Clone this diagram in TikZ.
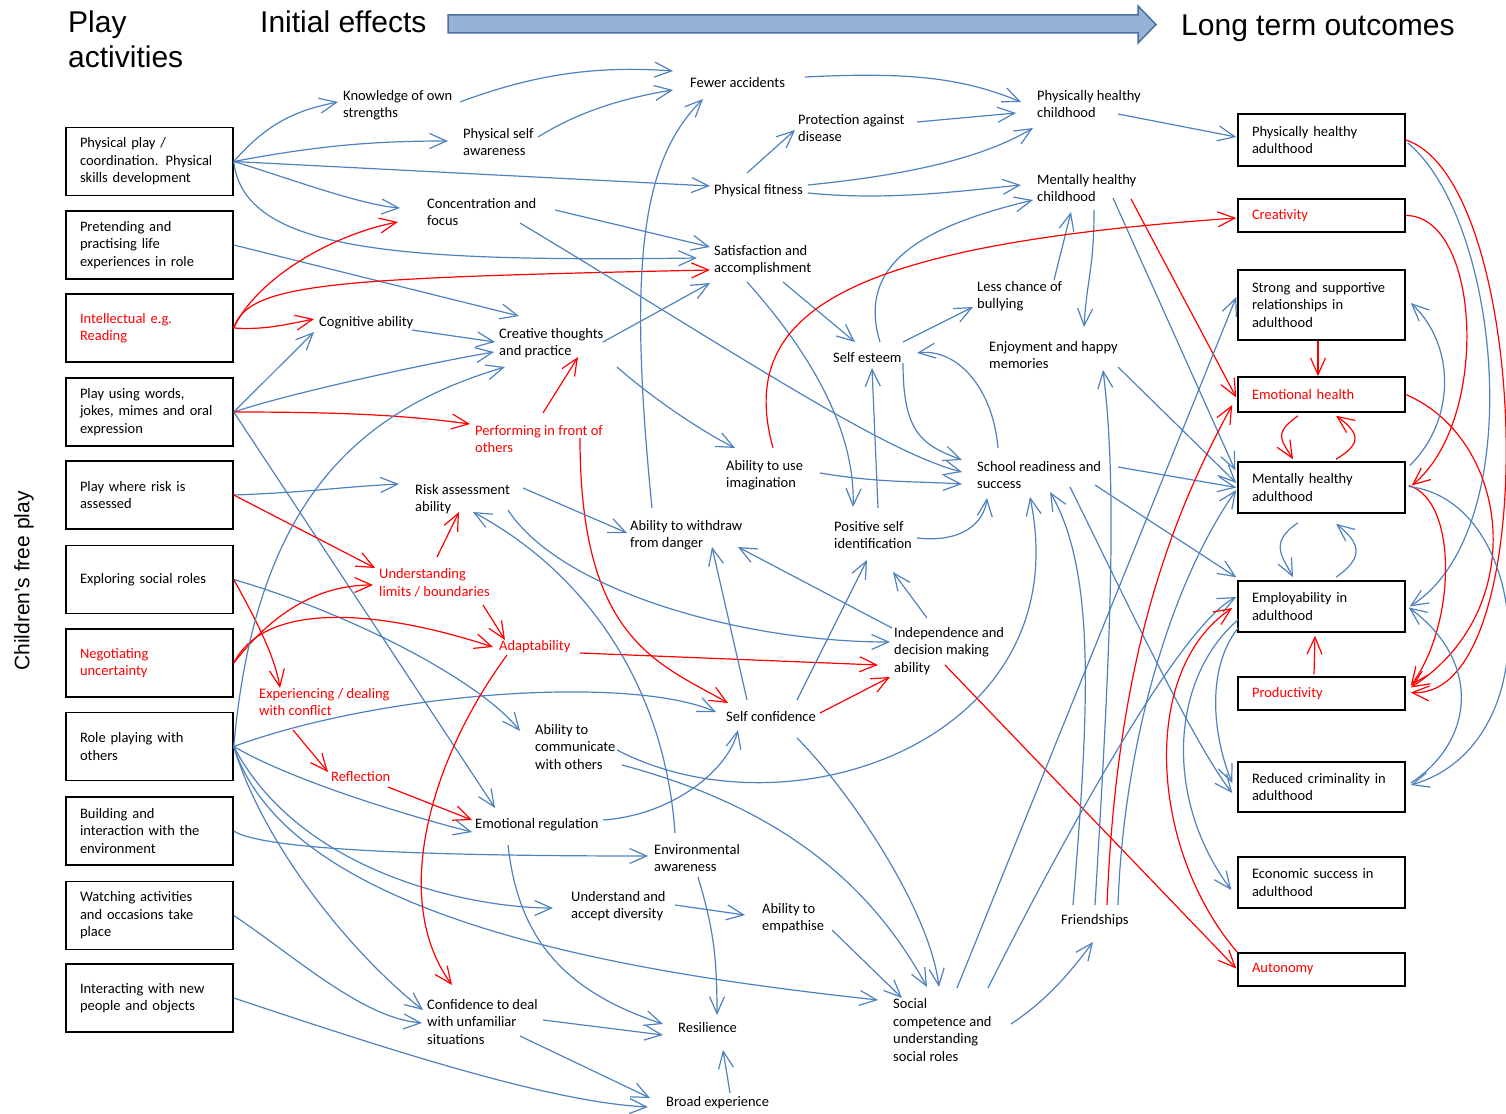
\documentclass[tikz,border=0pt]{standalone}
\usepackage{fontspec}
\setmainfont{Carlito}
\newfontfamily\headfont{Liberation Sans}
\usetikzlibrary{arrows.meta}
\definecolor{linkblue}{HTML}{4F81BD}
\definecolor{linkred}{HTML}{FF0000}
\definecolor{bandfill}{HTML}{95B3D7}
\definecolor{bandborder}{HTML}{4A6E9E}

\begin{document}
\begin{tikzpicture}[
    x=1pt, y=-1pt,
    lbl/.style={font=\fontsize{14.5}{17.5}\selectfont, align=left, inner sep=2pt, anchor=west},
    rlbl/.style={lbl, text=linkred},
    ttl/.style={font=\headfont\fontsize{30}{35}\selectfont, align=left, inner sep=0pt, anchor=west},
    actbox/.style={draw, line width=1.5pt, text width=139pt, inner xsep=14pt,
                   minimum height=68pt, align=left, font=\fontsize{14.5}{17.5}\selectfont},
    outbox/.style={actbox, minimum height=51pt},
    bl/.style={draw=linkblue, line width=1.2pt, -{Straight Barb[length=17pt,width=15pt]}},
    rd/.style={draw=linkred, line width=1.2pt, -{Straight Barb[length=17pt,width=15pt]}},
]
\useasboundingbox (0,0) rectangle (1506,1113);

% headings
\node[ttl] (tplay) at (68,39.5) {Play\\activities};
\node[ttl] (tinit) at (260,22) {Initial effects};
\node[ttl] (tlong) at (1181,28) {Long term outcomes};
\node[font=\headfont\fontsize{21}{25}\selectfont, rotate=90, inner sep=0pt] (tside) at (24,581) {Children’s free play};
\filldraw[fill=bandfill, draw=bandborder, line width=1.5pt]
    (448,15) -- (1138,15) -- (1138,6) -- (1156,24.5) -- (1138,43) -- (1138,33) -- (448,33) -- cycle;

% play activities
\node[actbox] (pp) at (149.5,161.5) {Physical play /\\coordination. Physical\\skills development};
\node[actbox] (pre) at (149.5,245) {Pretending and\\practising life\\experiences in role};
\node[actbox, text=linkred] (int) at (149.5,328) {Intellectual e.g.\\Reading};
\node[actbox] (puw) at (149.5,412) {Play using words,\\jokes, mimes and oral\\expression};
\node[actbox] (pwr) at (149.5,495) {Play where risk is\\assessed};
\node[actbox] (esr) at (149.5,579.5) {Exploring social roles};
\node[actbox, text=linkred] (neg) at (149.5,663) {Negotiating\\uncertainty};
\node[actbox] (rpo) at (149.5,746.5) {Role playing with\\others};
\node[actbox] (bie) at (149.5,831) {Building and\\interaction with the\\environment};
\node[actbox] (wat) at (149.5,915.5) {Watching activities\\and occasions take\\place};
\node[actbox] (inp) at (149.5,998) {Interacting with new\\people and objects};

% long term outcomes
\node[outbox, minimum height=52pt] (pha) at (1321.5,140) {Physically healthy\\adulthood};
\node[outbox, minimum height=33pt, text=linkred] (cre) at (1321.5,215.5) {Creativity};
\node[outbox, minimum height=70pt] (ssr) at (1321.5,305) {Strong and supportive\\relationships in\\adulthood};
\node[outbox, minimum height=35pt, text=linkred] (eh) at (1321.5,394.5) {Emotional health};
\node[outbox] (mha) at (1321.5,487.5) {Mentally healthy\\adulthood};
\node[outbox] (emp) at (1321.5,606.5) {Employability in\\adulthood};
\node[outbox, minimum height=33pt, text=linkred] (pro) at (1321.5,693.5) {Productivity};
\node[outbox, minimum height=50pt] (rcr) at (1321.5,787) {Reduced criminality in\\adulthood};
\node[outbox] (eco) at (1321.5,882.5) {Economic success in\\adulthood};
\node[outbox, minimum height=33pt, text=linkred] (aut) at (1321.5,969.5) {Autonomy};

% initial effects
\node[lbl] (kos) at (341,105) {Knowledge of own\\strengths};
\node[lbl] (psa) at (461,142) {Physical self\\awareness};
\node[lbl] (fa) at (688,83) {Fewer accidents};
\node[lbl] (pad) at (796,128) {Protection against\\disease};
\node[lbl] (phc) at (1035,104) {Physically healthy\\childhood};
\node[lbl] (pf) at (712,191) {Physical fitness};
\node[lbl] (mhc) at (1035,188) {Mentally healthy\\childhood};
\node[lbl] (cf) at (425,212) {Concentration and\\focus};
\node[lbl] (sa) at (712,260) {Satisfaction and\\accomplishment};
\node[lbl] (lcb) at (975,296) {Less chance of\\bullying};
\node[lbl] (ca) at (317,323) {Cognitive ability};
\node[lbl] (ctp) at (497,343) {Creative thoughts\\and practice};
\node[lbl] (se) at (831,358) {Self esteem};
\node[lbl] (ehm) at (987,355) {Enjoyment and happy\\memories};
\node[rlbl] (pfo) at (473,439) {Performing in front of\\others};
\node[lbl] (aui) at (724,475) {Ability to use\\imagination};
\node[lbl] (srs) at (975,475) {School readiness and\\success};
\node[lbl] (raa) at (413,499) {Risk assessment\\ability};
\node[lbl] (awd) at (628,535) {Ability to withdraw\\from danger};
\node[lbl] (psi) at (832,535) {Positive self\\identification};
\node[rlbl] (ulb) at (377,583) {Understanding\\limits / boundaries};
\node[lbl] (idm) at (892,651) {Independence and\\decision making\\ability};
\node[rlbl] (ada) at (497,647) {Adaptability};
\node[rlbl] (edc) at (257,702) {Experiencing / dealing\\with conflict};
\node[lbl] (sc) at (724,717) {Self confidence};
\node[lbl] (atc) at (533,747) {Ability to\\communicate\\with others};
\node[rlbl] (ref) at (329,777) {Reflection};
\node[lbl] (er) at (473,825) {Emotional regulation};
\node[lbl] (ea) at (652,858) {Environmental\\awareness};
\node[lbl] (uad) at (569,906) {Understand and\\accept diversity};
\node[lbl] (ate) at (760,918) {Ability to\\empathise};
\node[lbl] (fr) at (1059,921) {Friendships};
\node[lbl] (cdu) at (425,1022) {Confidence to deal\\with unfamiliar\\situations};
\node[lbl] (res) at (676,1028) {Resilience};
\node[lbl] (scu) at (891,1030) {Social\\competence and\\understanding\\social roles};
\node[lbl] (be) at (664,1103) {Broad experience};

% from the play activities
\draw[bl] (pp.east) .. controls +(35,-40) and +(-40,8) .. ([shift={(-3,-3)}]kos.west);
\draw[bl] (pp.east) .. controls +(80,-15) and +(-80,0) .. ([shift={(-13,-1)}]psa.west);
\draw[bl] (pp.east) -- ([shift={(-2,-5)}]pf.west);
\draw[bl] (pp.east) .. controls +(50,15) and +(-40,-3) .. ([shift={(-25,-4)}]cf.west);
\draw[bl] (pp.east) .. controls +(10,90) and +(-300,4) .. ([shift={(-15,-2)}]sa.west);
\draw[bl] (pre.east) -- ([shift={(22,-27)}]ctp.west);
\draw[rd] (int.east) .. controls +(22,-48) and +(-68,13) .. ([shift={(-27,10)}]cf.west);
\draw[rd] (int.east) .. controls +(15,-45) and +(-380,8) .. ([shift={(-2,10)}]sa.west);
\draw[rd] (int.east) .. controls +(30,2) and +(-30,6) .. ([shift={(-3,-4)}]ca.west);
\draw[bl] (puw.east) -- ([shift={(-3,9)}]ca.west);
\draw[bl] (puw.east) .. controls +(60,-20) and +(-60,10) .. ([shift={(-3,9)}]ctp.west);
\draw[rd] (puw.east) .. controls +(120,0) and +(-60,-8) .. ([shift={(-3,-15)}]pfo.west);
\draw[bl] (puw.east) -- ([shift={(22,-17)}]er.west);
\draw[bl] (pwr.east) .. controls +(80,-3) and +(-60,3) .. ([shift={(-14,-15)}]raa.west);
\draw[rd] (pwr.east) -- ([shift={(-2,-15)}]ulb.west);
\draw[bl] (esr.east) .. controls +(120,35) and +(-40,-50) .. ([shift={(-13,-16)}]atc.west);
\draw[rd] (esr.east) .. controls +(25,45) and +(-5,-30) .. ([shift={(23,-14)}]edc.west);
\draw[rd] (neg.east) .. controls +(35,-45) and +(-60,0) .. ([shift={(-4,2)}]ulb.west);
\draw[rd] (neg.east) .. controls +(32,-63) and +(-113,-37) .. ([shift={(-4,0)}]ada.west);
\draw[bl] (rpo.east) .. controls +(22,-248) and +(-145,43) .. ([shift={(8,24)}]ctp.west);
\draw[bl] (rpo.east) .. controls +(150,-55) and +(-86,-37) .. ([shift={(-8,-5)}]sc.west);
\draw[bl] (rpo.east) .. controls +(60,35) and +(-60,-15) .. ([shift={(-1,7)}]er.west);
\draw[bl] (rpo.east) .. controls +(67,128) and +(-80,0) .. ([shift={(-16,2)}]uad.west);
\draw[bl] (rpo.east) .. controls +(57,178) and +(-228,-25) .. ([shift={(-13,-30)}]scu.west);
\draw[bl] (rpo.east) .. controls +(30,100) and +(-70,-55) .. ([shift={(-2,-12)}]cdu.west);
\draw[bl] (bie.east) .. controls +(30,20) and +(-200,0) .. ([shift={(-4,-2)}]ea.west);
\draw[bl] (wat.east) .. controls +(60,40) and +(-60,-5) .. ([shift={(-3,1)}]cdu.west);
\draw[bl] (inp.east) .. controls +(150,50) and +(-100,-5) .. ([shift={(-16,4)}]be.west);

% between the initial effects
\draw[bl] ([shift={(119,-3)}]kos.west) .. controls +(80,-30) and +(-70,-5) .. ([shift={(-15,-12)}]fa.west);
\draw[bl] ([shift={(77,-5)}]psa.west) .. controls +(40,-25) and +(-50,8) .. ([shift={(-15,7)}]fa.west);
\draw[bl] ([shift={(35,-18)}]pf.west) -- ([shift={(-1,2)}]pad.west);
\draw[bl] ([shift={(130,-2)}]cf.west) -- ([shift={(-2,-13)}]sa.west);
\draw[bl] ([shift={(95,11)}]cf.west) .. controls +(200,120) and +(-80,-20) .. ([shift={(-13,-3)}]srs.west);
\draw[bl] ([shift={(106,-1)}]ctp.west) -- ([shift={(-2,23)}]sa.west);
\draw[bl] ([shift={(120,24)}]ctp.west) .. controls +(40,35) and +(-30,-15) .. ([shift={(11,-27)}]aui.west);
\draw[bl] ([shift={(95,7)}]ca.west) -- ([shift={(-2,-1)}]ctp.west);
\draw[rd] ([shift={(70,-26)}]pfo.west) -- ([shift={(81,14)}]ctp.west);
\draw[rd] ([shift={(107,-1)}]pfo.west) .. controls +(0,202) and +(-70,-40) .. ([shift={(4,-14)}]sc.west);
\draw[bl] ([shift={(24,-27)}]awd.west) .. controls +(-25,-250) and +(-60,60) .. ([shift={(15,16)}]fa.west);
\draw[bl] ([shift={(110,-11)}]raa.west) -- ([shift={(-1,-2)}]awd.west);
\draw[bl] ([shift={(95,11)}]raa.west) .. controls +(52,80) and +(-150,0) .. ([shift={(-2,-9)}]idm.west);
\draw[rd] ([shift={(60,-26)}]ulb.west) -- ([shift={(46,13)}]raa.west);
\draw[rd] ([shift={(106,22)}]ulb.west) -- ([shift={(8,-7)}]ada.west);
\draw[rd] ([shift={(10,8)}]ada.west) .. controls +(-77,105) and +(-62,-85) .. ([shift={(27,-37)}]cdu.west);
\draw[rd] ([shift={(83,6)}]ada.west) -- ([shift={(-14,14)}]idm.west);
\draw[rd] ([shift={(36,28)}]edc.west) -- ([shift={(-1,-5)}]ref.west);
\draw[rd] ([shift={(59,10)}]ref.west) -- ([shift={(-1,-5)}]er.west);
\draw[bl] ([shift={(130,-5)}]er.west) .. controls +(70,-5) and +(-10,40) .. ([shift={(14,13)}]sc.west);
\draw[bl] ([shift={(35,20)}]er.west) .. controls +(10,90) and +(-103,-34) .. ([shift={(-13,-4)}]res.west);
\draw[bl] ([shift={(23,-25)}]ea.west) .. controls +(-10,-143) and +(117,63) .. ([shift={(60,13)}]raa.west);
\draw[bl] ([shift={(46,19)}]ea.west) .. controls +(15,50) and +(0,-60) .. ([shift={(41,-13)}]res.west);
\draw[bl] ([shift={(106,-1)}]uad.west) -- ([shift={(-15,-3)}]ate.west);
\draw[bl] ([shift={(72,12)}]ate.west) -- ([shift={(11,-32)}]scu.west);
\draw[bl] ([shift={(89,18)}]atc.west) .. controls +(150,40) and +(-60,-110) .. ([shift={(36,-43)}]scu.west);
\draw[bl] ([shift={(84,3)}]atc.west) .. controls +(173,90) and +(50,243) .. ([shift={(55,22)}]srs.west);
\draw[bl] ([shift={(23,-17)}]sc.west) -- ([shift={(84,12)}]awd.west);
\draw[bl] ([shift={(73,-17)}]sc.west) -- ([shift={(35,25)}]psi.west);
\draw[rd] ([shift={(96,-4)}]sc.west) -- ([shift={(-2,26)}]idm.west);
\draw[bl] ([shift={(73,21)}]sc.west) .. controls +(50,50) and +(-10,-80) .. ([shift={(48,-43)}]scu.west);
\draw[bl] ([shift={(0,-23)}]idm.west) -- ([shift={(110,12)}]awd.west);
\draw[bl] ([shift={(35,-33)}]idm.west) -- ([shift={(61,37)}]psi.west);
\draw[rd] ([shift={(53,14)}]idm.west) -- ([shift={(-1,-1)}]aut.west);
\draw[bl] ([shift={(117,-6)}]fa.west) .. controls +(100,-5) and +(-60,-25) .. ([shift={(-14,-2)}]phc.west);
\draw[bl] ([shift={(121,-6)}]pad.west) -- ([shift={(-19,9)}]phc.west);
\draw[bl] ([shift={(96,-6)}]pf.west) .. controls +(100,-10) and +(-50,30) .. ([shift={(-2,24)}]phc.west);
\draw[bl] ([shift={(96,2)}]pf.west) .. controls +(80,8) and +(-60,6) .. ([shift={(-14,-3)}]mhc.west);
\draw[bl] ([shift={(49,-16)}]se.west) .. controls +(-25,-82) and +(-103,25) .. ([shift={(-2,12)}]mhc.west);
\draw[bl] ([shift={(79,-16)}]lcb.west) -- ([shift={(36,24)}]mhc.west);
\draw[bl] ([shift={(59,22)}]mhc.west) .. controls +(0,60) and +(3,-50) .. ([shift={(97,-28)}]ehm.west);
\draw[bl] ([shift={(72,-16)}]se.west) -- ([shift={(-2,11)}]lcb.west);
\draw[bl] ([shift={(71,22)}]sa.west) -- ([shift={(24,-16)}]se.west);
\draw[bl] ([shift={(35,22)}]sa.west) .. controls +(45,50) and +(3,-90) .. ([shift={(21,-28)}]psi.west);
\draw[bl] ([shift={(46,-27)}]psi.west) -- ([shift={(41,10)}]se.west);
\draw[bl] ([shift={(85,3)}]psi.west) .. controls +(45,5) and +(-3,25) .. ([shift={(12,23)}]srs.west);
\draw[bl] ([shift={(72,5)}]se.west) .. controls +(0,70) and +(-40,-15) .. ([shift={(-13,-15)}]srs.west);
\draw[bl] ([shift={(23,-27)}]srs.west) .. controls +(-5,-60) and +(40,-5) .. ([shift={(86,-5)}]se.west);
\draw[bl] ([shift={(96,-2)}]aui.west) .. controls +(60,10) and +(-50,-3) .. ([shift={(-13,9)}]srs.west);
\draw[bl] ([shift={(120,-6)}]scu.west) .. controls +(30,-20) and +(-30,40) .. ([shift={(34,21)}]fr.west);
\draw[bl] ([shift={(66,-10)}]be.west) -- ([shift={(47,22)}]res.west);
\draw[bl] ([shift={(118,-2)}]cdu.west) -- ([shift={(-13,7)}]res.west);
\draw[bl] ([shift={(95,14)}]cdu.west) -- ([shift={(-14,-5)}]be.west);

% into the long term outcomes
\draw[bl] ([shift={(83,10)}]phc.west) -- ([shift={(-1,-3)}]pha.west);
\draw[bl] ([shift={(78,10)}]mhc.west) -- ([shift={(-2,-17)}]mha.west);
\draw[rd] ([shift={(96,11)}]mhc.west) -- ([shift={(-1,3)}]eh.west);
\draw[rd] ([shift={(49,-27)}]aui.west) .. controls +(-38,-138) and +(-387,27) .. ([shift={(-1,2.5)}]cre.west);
\draw[bl] ([shift={(143,-8)}]srs.west) -- ([shift={(-1,0)}]mha.west);
\draw[bl] ([shift={(120,10)}]srs.west) -- ([shift={(-1,-3)}]emp.north west);
\draw[bl] ([shift={(95,12)}]srs.west) .. controls +(40,80) and +(-40,-50) .. ([shift={(-5,6)}]rcr.west);
\draw[bl] ([shift={(131,12)}]ehm.west) -- ([shift={(-1,-4.5)}]mha.west);
\draw[bl] ([shift={(14,-16)}]fr.west) .. controls +(17,-205) and +(45,78) .. ([shift={(75,17)}]srs.west);
\draw[bl] ([shift={(36,-16)}]fr.west) .. controls +(15,-250) and +(15,120) .. ([shift={(116,15)}]ehm.west);
\draw[rd] ([shift={(48,-16)}]fr.west) .. controls +(10,-250) and +(-60,110) .. ([shift={(-5,10.5)}]eh.west);
\draw[bl] ([shift={(59,-16)}]fr.west) .. controls +(5,-150) and +(-70,100) .. ([shift={(-1,2.5)}]mha.west);
\draw[bl] ([shift={(66,-42)}]scu.west) -- ([shift={(-1,-8)}]ssr.west);
\draw[bl] ([shift={(97,-42)}]scu.west) .. controls +(60,-120) and +(-60,30) .. ([shift={(-1,-9.5)}]emp.west);

% among the long term outcomes
\draw[rd] (cre.east) .. controls +(75,0) and +(79,-65) .. ([shift={(6,-2)}]mha.east);
\draw[rd] (pha.east) .. controls +(125,40) and +(135,7) .. ([shift={(5,-1)}]pro.east);
\draw[bl] ([shift={(2,3)}]pha.east) .. controls +(93,77) and +(121,-77) .. ([shift={(4,0)}]emp.east);
\draw[rd] ([xshift=-3.5pt]ssr.south) -- ([xshift=-3.5pt]eh.north);
\draw[rd] ([shift={(-23.5,3)}]eh.south) .. controls +(-25,18) and +(-12,-20) .. ([shift={(-28.5,-2)}]mha.north);
\draw[rd] ([shift={(14.5,-2)}]mha.north) .. controls +(25,-15) and +(25,18) .. ([shift={(14.5,3)}]eh.south);
\draw[bl] ([shift={(-23.5,9)}]mha.south) .. controls +(-30,20) and +(-10,-20) .. ([shift={(-28.5,-3)}]emp.north);
\draw[bl] ([shift={(14.5,-3)}]emp.north) .. controls +(28,-20) and +(25,20) .. ([shift={(14.5,10)}]mha.south);
\draw[rd] ([shift={(-7.5,-2)}]pro.north) -- ([shift={(-6.5,3)}]emp.south);
\draw[rd] (eh.east) .. controls +(105,45) and +(120,-77) .. ([shift={(5,-6)}]pro.east);
\draw[rd] ([shift={(3,-2)}]mha.east) .. controls +(50,15) and +(45,-60) .. ([shift={(5,-8)}]pro.east);
\draw[bl] ([shift={(4,-22)}]mha.east) .. controls +(46,-45) and +(45,42) .. ([shift={(5,-2)}]ssr.east);
\draw[bl] ([shift={(3,-1)}]mha.east) .. controls +(122,14) and +(140,-40) .. ([shift={(5,-2)}]rcr.east);
\draw[bl] ([shift={(5,-4)}]rcr.east) .. controls +(65,-43) and +(72,53) .. ([shift={(3,1)}]emp.east);
\draw[bl] ([shift={(1,-5)}]emp.south west) .. controls +(-34,43) and +(-18,-43) .. ([shift={(-5,-4)}]rcr.west);
\draw[bl] ([shift={(1,13)}]emp.west) .. controls +(-69,60) and +(-67,-90) .. ([shift={(-6,7.5)}]eco.west);
\draw[rd] (aut.north west) .. controls +(-88,-103) and +(-93,62) .. ([shift={(-5,1.5)}]emp.west);

\end{tikzpicture}
\end{document}
